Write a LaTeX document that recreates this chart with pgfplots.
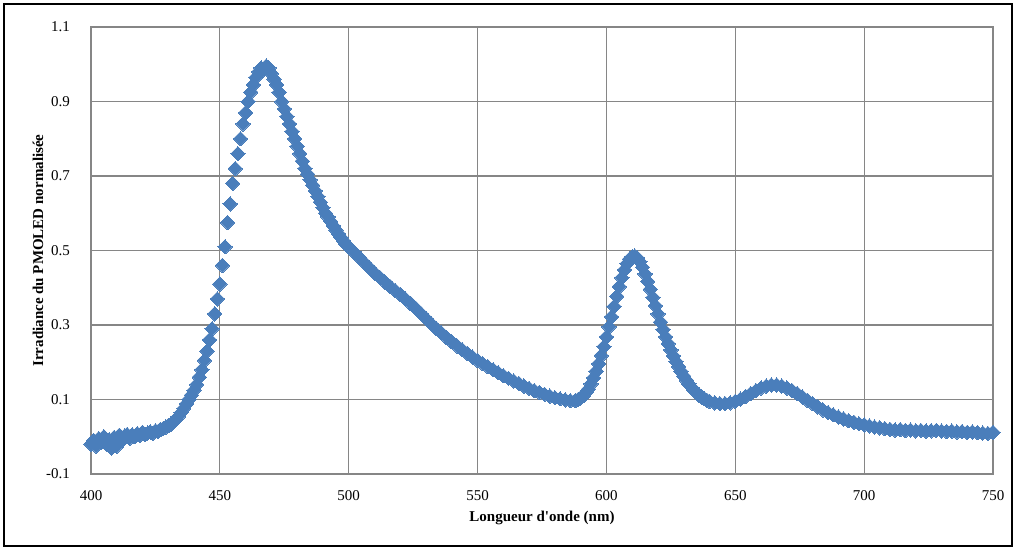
\documentclass[border=0pt]{standalone}
\usepackage{fontspec}
\setmainfont{Liberation Serif}[Ligatures=TeXOff]
\usepackage{pgfplots}
\pgfplotsset{compat=1.18}
\definecolor{mk}{HTML}{4A7EBB}
\definecolor{gridc}{HTML}{868686}
\begin{document}
\begin{tikzpicture}
\useasboundingbox (-45.5pt,-37pt) rectangle (462.5pt,237pt);
\draw[black, line width=1pt] (-43.5pt,-36pt) rectangle (460.5pt,235pt);
\begin{axis}[at={(0pt,0pt)}, anchor=south west, scale only axis,
  width=451pt, height=223.5pt,
  xmin=400, xmax=750, ymin=-0.1, ymax=1.1,
  xtick={400,450,500,550,600,650,700,750},
  xticklabels={400,450,500,550,600,650,700,750},
  ytick={-0.1,0.1,0.3,0.5,0.7,0.9,1.1},
  yticklabels={-0.1,0.1,0.3,0.5,0.7,0.9,1.1},
  grid=major, major grid style={gridc, line width=0.6pt},
  axis line style={gridc, line width=0.8pt},
  major tick length=0pt,
  tick label style={font=\fontsize{7.5}{9}\selectfont},
  xticklabel style={yshift=-4.5pt},
  yticklabel style={xshift=-7pt},
  xlabel={Longueur d'onde (nm)},
  ylabel={Irradiance du PMOLED normalisée},
  label style={font=\fontsize{7.5}{9}\selectfont\bfseries},
  xlabel style={at={(axis description cs:0.5,-0.0984)}, anchor=center},
  ylabel style={at={(axis description cs:-0.0588,0.5)}, anchor=center},
  clip=false]
\addplot[only marks, mark=square*, mark size=2.55pt, mark options={rotate=45, fill=mk, draw=mk, line width=0pt}] table {
x y
400 -0.02
401 -0.01
402 -0.025
403 -0.005
404 -0.015
405 0.0
406 -0.02
407 -0.008
408 -0.03
409 -0.002
410 -0.025
411 0.004
412 -0.01
413 0.002
414 0.006
415 -0.004
416 0.005
417 0.0
418 0.008
419 0.004
420 0.012
421 0.006
422 0.01
423 0.013
424 0.009
425 0.016
426 0.014
427 0.02
428 0.022
429 0.026
430 0.03
431 0.034
432 0.04
433 0.046
434 0.055
435 0.065
436 0.076
437 0.088
438 0.1
439 0.112
440 0.125
441 0.14
442 0.16
443 0.18
444 0.205
445 0.23
446 0.26
447 0.29
448 0.33
449 0.37
450 0.41
451 0.46
452 0.51
453 0.575
454 0.625
455 0.68
456 0.72
457 0.76
458 0.8
459 0.84
460 0.87
461 0.9
462 0.925
463 0.945
464 0.965
465 0.98
466 0.99
467 0.985
468 0.995
469 0.99
470 0.975
471 0.96
472 0.945
473 0.925
474 0.9
475 0.88
476 0.86
477 0.84
478 0.82
479 0.8
480 0.78
481 0.76
482 0.74
483 0.72
484 0.705
485 0.69
486 0.675
487 0.66
488 0.645
489 0.63
490 0.615
491 0.6
492 0.59
493 0.578
494 0.566
495 0.555
496 0.545
497 0.535
498 0.526
499 0.517
500 0.51
502 0.496
504 0.482
506 0.468
508 0.454
510 0.44
512 0.428
514 0.416
516 0.404
518 0.393
520 0.382
522 0.37
524 0.358
526 0.345
528 0.331
530 0.317
532 0.303
534 0.29
536 0.278
538 0.266
540 0.255
542 0.244
544 0.234
546 0.224
548 0.214
550 0.205
552 0.196
554 0.188
556 0.18
558 0.172
560 0.164
562 0.157
564 0.15
566 0.143
568 0.136
570 0.13
572 0.124
574 0.119
576 0.114
578 0.109
580 0.105
582 0.102
584 0.099
586 0.097
588 0.097
589 0.1
590 0.104
591 0.11
592 0.118
593 0.128
594 0.142
595 0.158
596 0.176
597 0.196
598 0.218
599 0.242
600 0.268
601 0.295
602 0.322
603 0.35
604 0.377
605 0.403
606 0.427
607 0.448
608 0.465
609 0.477
610 0.483
611 0.485
612 0.48
613 0.47
614 0.455
615 0.437
616 0.417
617 0.396
618 0.374
619 0.352
620 0.33
621 0.308
622 0.288
623 0.268
624 0.25
625 0.233
626 0.217
627 0.202
628 0.188
629 0.175
630 0.163
631 0.152
632 0.142
633 0.133
634 0.125
635 0.118
636 0.112
637 0.107
638 0.102
639 0.098
640 0.095
642 0.091
644 0.089
646 0.089
648 0.091
650 0.095
652 0.101
654 0.108
656 0.116
658 0.124
660 0.131
662 0.136
664 0.139
666 0.139
668 0.136
670 0.131
672 0.124
674 0.116
676 0.107
678 0.098
680 0.089
682 0.08
684 0.072
686 0.065
688 0.059
690 0.053
692 0.048
694 0.043
696 0.039
698 0.035
700 0.032
702 0.029
704 0.026
706 0.024
708 0.022
710 0.02
712 0.018
714 0.019
716 0.017
718 0.018
720 0.016
722 0.017
724 0.015
726 0.016
728 0.017
730 0.015
732 0.014
734 0.015
736 0.013
738 0.014
740 0.012
742 0.013
744 0.011
746 0.01
748 0.009
750 0.012
};
\end{axis}
\end{tikzpicture}
\end{document}
